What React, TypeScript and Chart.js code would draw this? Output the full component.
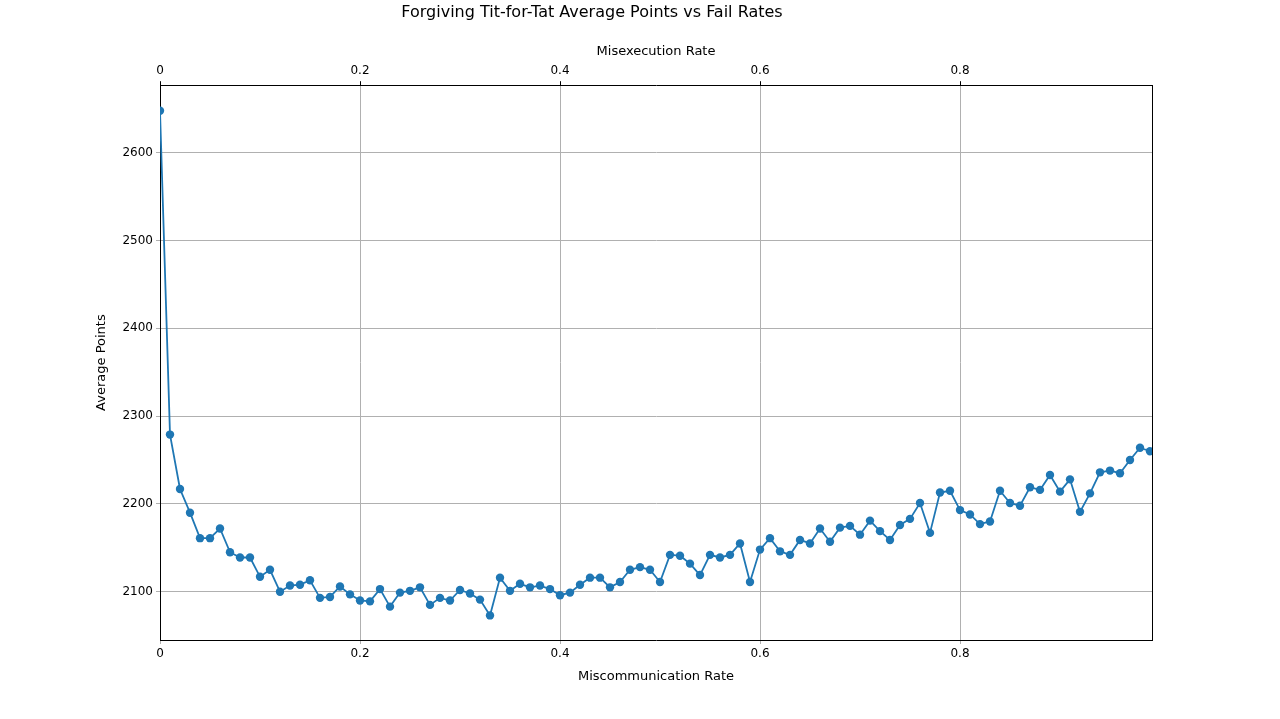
import React, { useEffect, useRef } from 'react'
import { Chart, registerables } from 'chart.js'

Chart.register(...registerables)

const rates: number[] = Array.from({ length: 100 }, (_, i) => i / 100)
const avgPoints: number[] = [
  2648, 2279, 2217, 2190, 2161, 2161, 2172, 2145, 2139, 2139,
  2117, 2125, 2100, 2107, 2108, 2113, 2093, 2094, 2106, 2097,
  2090, 2089, 2103, 2083, 2099, 2101, 2105, 2085, 2093, 2090,
  2102, 2098, 2091, 2073, 2116, 2101, 2109, 2105, 2107, 2103,
  2096, 2099, 2108, 2116, 2116, 2105, 2111, 2125, 2128, 2125,
  2111, 2142, 2141, 2132, 2119, 2142, 2139, 2142, 2155, 2111,
  2148, 2161, 2146, 2142, 2159, 2155, 2172, 2157, 2173, 2175,
  2165, 2181, 2169, 2159, 2176, 2183, 2201, 2167, 2213, 2215,
  2193, 2188, 2177, 2180, 2215, 2201, 2198, 2219, 2216, 2233,
  2214, 2228, 2191, 2212, 2236, 2238, 2235, 2250, 2264, 2260,
]
const xTicks = [0, 0.2, 0.4, 0.6, 0.8]
const yTicks = [2100, 2200, 2300, 2400, 2500, 2600]

const font = { family: 'DejaVu Sans', size: 12 }
const titleFont = { family: 'DejaVu Sans', size: 13 }
const color = '#1f77b4'

export default function App() {
  const ref = useRef<HTMLCanvasElement | null>(null)

  useEffect(() => {
    if (!ref.current) return
    const setTicks = (vals: number[]) => (axis: any) => {
      axis.ticks = vals.map((v) => ({ value: v }))
    }
    const plain = (v: any) => String(Number(v))
    const chart = new Chart(ref.current, {
      type: 'line',
      data: {
        datasets: [
          {
            data: rates.map((r, i) => ({ x: r, y: avgPoints[i] })),
            borderColor: color,
            backgroundColor: color,
            borderWidth: 1.8,
            pointRadius: 4.2,
            pointBorderWidth: 0,
            tension: 0,
          },
        ],
      },
      options: {
        animation: false,
        responsive: false,
        layout: { padding: { left: 0, right: 96, top: 0, bottom: 0 } },
        plugins: {
          legend: { display: false },
          tooltip: { enabled: false },
          title: {
            display: true,
            text: 'Forgiving Tit-for-Tat Average Points vs Fail Rates',
            color: '#000',
            font: { family: 'DejaVu Sans', size: 16, weight: 'normal' },
            padding: { top: 3, bottom: 10 },
          },
        },
        scales: {
          x: {
            type: 'linear',
            min: 0,
            max: 0.992,
            afterBuildTicks: setTicks(xTicks),
            afterFit: (a: any) => { a.height = 79 },
            grid: { color: '#b0b0b0', tickLength: 4 },
            border: { color: '#000' },
            ticks: { color: '#000', font, callback: plain, maxRotation: 0 },
            title: { display: true, text: 'Miscommunication Rate', color: '#000', font: titleFont, padding: { top: 0, bottom: 35 } },
          },
          x2: {
            type: 'linear',
            position: 'top',
            min: 0,
            max: 0.992,
            afterBuildTicks: setTicks(xTicks),
            afterFit: (a: any) => { a.height = 53 },
            grid: { drawOnChartArea: false, tickLength: 4, color: '#000' },
            border: { color: '#000' },
            ticks: { color: '#000', font, callback: plain, maxRotation: 0 },
            title: { display: true, text: 'Misexecution Rate', color: '#000', font: titleFont, padding: { top: 12, bottom: 0 } },
          },
          y: {
            min: 2045,
            max: 2677,
            afterBuildTicks: setTicks(yTicks),
            afterFit: (a: any) => { a.width = 160 },
            grid: { color: '#b0b0b0', tickLength: 4 },
            border: { color: '#000' },
            ticks: { color: '#000', font, callback: plain },
            title: { display: true, text: 'Average Points', color: '#000', font: titleFont, padding: { top: 94, bottom: 0 } },
          },
          y2: {
            position: 'right',
            min: 2045,
            max: 2677,
            afterFit: (a: any) => { a.width = 32 },
            grid: { drawOnChartArea: false, drawTicks: false },
            border: { color: '#000' },
            ticks: { display: false },
          },
        },
      } as any,
    })
    return () => chart.destroy()
  }, [])

  return (
    <div style={{ position: 'fixed', left: 0, top: 0, width: 1280, height: 719, background: '#fff' }}>
      <canvas ref={ref} width={1280} height={719} />
    </div>
  )
}
